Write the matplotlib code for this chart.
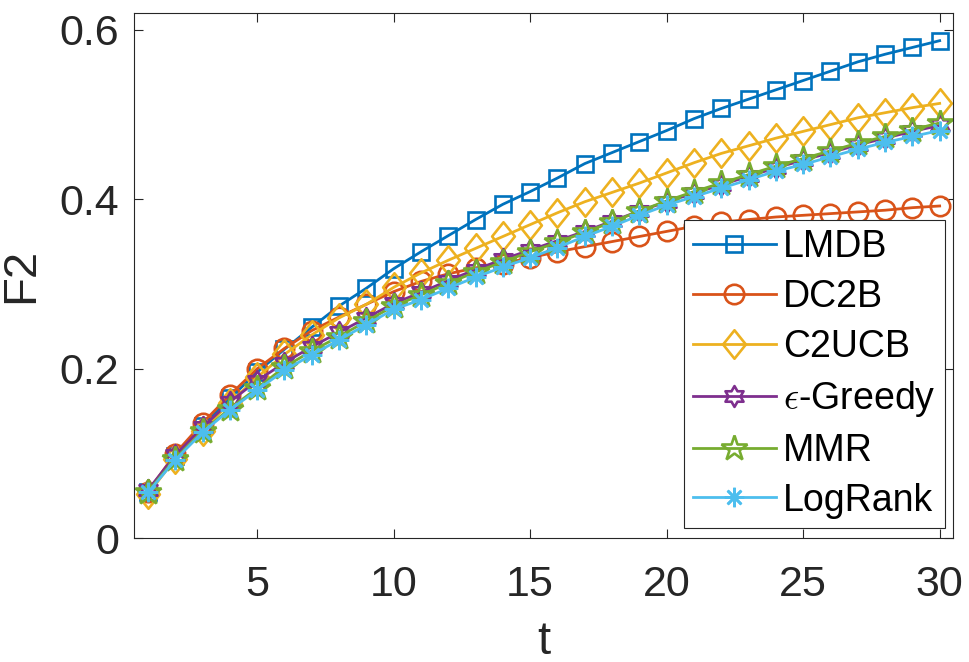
import numpy as np
import matplotlib
matplotlib.use("Agg")
import matplotlib.pyplot as plt
from matplotlib.path import Path

plt.rcParams['font.family'] = ['Liberation Sans', 'DejaVu Sans']
plt.rcParams['mathtext.fontset'] = 'cm'

t = list(range(1, 31))

lmdb = [0.055, 0.097, 0.133, 0.165, 0.196, 0.223, 0.249, 0.274, 0.295, 0.318,
        0.338, 0.357, 0.376, 0.394, 0.409, 0.425, 0.442, 0.455, 0.468, 0.481,
        0.495, 0.507, 0.518, 0.529, 0.540, 0.551, 0.562, 0.571, 0.579, 0.587]
dc2b = [0.055, 0.100, 0.136, 0.169, 0.200, 0.224, 0.245, 0.261, 0.276, 0.291,
        0.303, 0.312, 0.319, 0.324, 0.331, 0.338, 0.344, 0.350, 0.356, 0.362,
        0.368, 0.373, 0.376, 0.379, 0.381, 0.383, 0.385, 0.387, 0.390, 0.392]
c2ucb = [0.052, 0.094, 0.127, 0.160, 0.190, 0.217, 0.240, 0.260, 0.276, 0.296,
         0.313, 0.328, 0.342, 0.356, 0.370, 0.384, 0.397, 0.408, 0.419, 0.431,
         0.443, 0.454, 0.463, 0.472, 0.480, 0.488, 0.496, 0.502, 0.508, 0.513]
egreedy = [0.057, 0.098, 0.131, 0.161, 0.186, 0.207, 0.226, 0.243, 0.260, 0.277,
           0.290, 0.304, 0.317, 0.329, 0.340, 0.351, 0.362, 0.374, 0.386, 0.397,
           0.407, 0.417, 0.427, 0.437, 0.446, 0.455, 0.464, 0.472, 0.480, 0.487]
mmr = [0.055, 0.094, 0.126, 0.153, 0.177, 0.202, 0.221, 0.238, 0.256, 0.274,
       0.287, 0.301, 0.314, 0.326, 0.338, 0.349, 0.361, 0.373, 0.386, 0.398,
       0.409, 0.419, 0.429, 0.439, 0.448, 0.457, 0.466, 0.474, 0.482, 0.490]
logrank = [0.054, 0.0925, 0.125, 0.1515, 0.175, 0.198, 0.2165, 0.234, 0.252, 0.270,
           0.2815, 0.295, 0.308, 0.320, 0.331, 0.343, 0.356, 0.368, 0.381, 0.393,
           0.403, 0.413, 0.423, 0.433, 0.441, 0.450, 0.459, 0.467, 0.474, 0.481]

labels = ['LMDB', 'DC2B', 'C2UCB', r'$\epsilon$-Greedy', 'MMR', 'LogRank']
colors = ['#0072BD', '#D95319', '#EDB120', '#7E2F8E', '#77AC30', '#4DBEEE']

# matlab style markers
diamond = Path([(0, 1), (0.8, 0), (0, -1), (-0.8, 0), (0, 1)], closed=True)
ang = np.pi / 2 + np.arange(12) * np.pi / 6
rad = np.where(np.arange(12) % 2 == 0, 1.0, 1 / np.sqrt(3))
hv = np.column_stack([rad * np.cos(ang), rad * np.sin(ang)])
hexagram = Path(np.vstack([hv, hv[:1]]), closed=True)

markers = ['s', 'o', diamond, hexagram, '*', (8, 2, 0)]
msizes = [12, 14, 20.5, 15, 19, 14]

fig = plt.figure(figsize=(9.7, 6.62), dpi=100)
ax = fig.add_axes([0.1385, 0.1869, 0.8443, 0.7939])

for y, lab, c, m, s in zip([lmdb, dc2b, c2ucb, egreedy, mmr, logrank], labels, colors, markers, msizes):
    ax.plot(t, y, color=c, lw=2.0, marker=m, ms=s, mfc='none', mec=c, mew=1.9, label=lab)

ax.set_xlim(0.5, 30.5)
ax.set_ylim(0, 0.62)
ax.set_xticks([5, 10, 15, 20, 25, 30])
ax.set_yticks([0, 0.2, 0.4, 0.6])
ax.set_yticklabels(['0', '0.2', '0.4', '0.6'])

gray = '#262626'
for sp in ax.spines.values():
    sp.set_color(gray)
    sp.set_linewidth(0.8)
ax.tick_params(direction='in', top=True, right=True, length=6.5, width=0.8,
               colors=gray, labelsize=31)
ax.tick_params(axis='x', pad=19)
ax.tick_params(axis='y', pad=11)

ax.set_xlabel('t', fontsize=34, color=gray, labelpad=11)
ax.set_ylabel('F2', fontsize=34, color=gray, labelpad=12)

leg = ax.legend(loc='lower right', bbox_to_anchor=(0.99, 0.0196), borderaxespad=0,
                fontsize=27, fancybox=False, framealpha=1, edgecolor=gray,
                handlelength=2.2, handletextpad=0.2, labelspacing=0.37,
                borderpad=0.25)
leg.get_frame().set_linewidth(0.8)

fig.savefig('out.png', dpi=100)
